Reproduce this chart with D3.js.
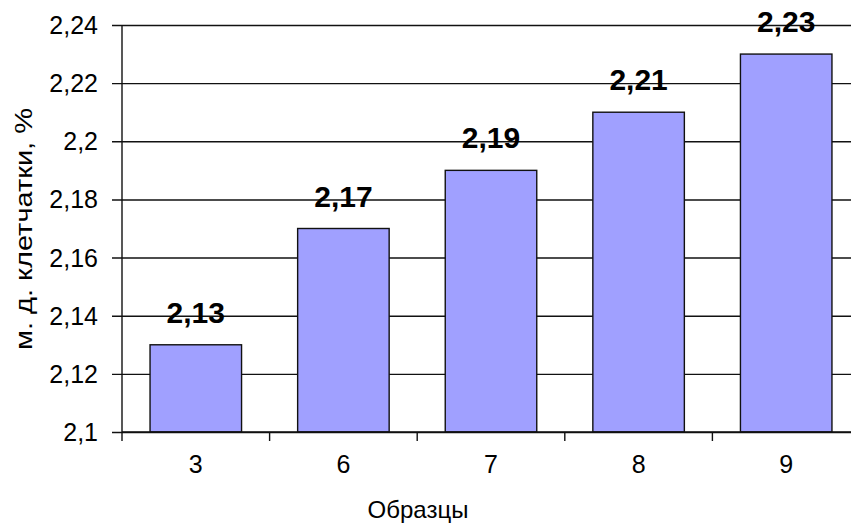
<!DOCTYPE html>
<html>
<head>
<meta charset="utf-8">
<script src="https://cdn.jsdelivr.net/npm/d3@7"></script>
<style>
  html, body { margin: 0; padding: 0; background: #fff; }
  svg { display: block; font-family: Arial, "Liberation Sans", sans-serif; }
</style>
</head>
<body>
<svg id="chart" width="851" height="524"></svg>
<script>
// Samples and fibre mass fraction, %
const categories = ["3", "6", "7", "8", "9"];
const values = [2.13, 2.17, 2.19, 2.21, 2.23];
const valueLabels = ["2,13", "2,17", "2,19", "2,21", "2,23"];
const yTicks = [2.1, 2.12, 2.14, 2.16, 2.18, 2.2, 2.22, 2.24];
const yTickLabels = ["2,1", "2,12", "2,14", "2,16", "2,18", "2,2", "2,22", "2,24"];
const yTitle = "м. д. клетчатки, %";
const xTitle = "Образцы";

const svg = d3.select("#chart");
const plot = { left: 122, right: 860, top: 25, bottom: 432 };

const x = d3.scaleBand()
  .domain(categories)
  .range([plot.left, plot.right])
  .paddingInner(0.38)
  .paddingOuter(0.19);

const y = d3.scaleLinear()
  .domain([2.1, 2.24])
  .range([plot.bottom, plot.top]);

// Horizontal gridlines with outward tick marks
const yAxis = d3.axisLeft(y)
  .tickValues(yTicks)
  .tickSize(-(plot.right - plot.left) - 10)
  .tickSizeOuter(0)
  .tickPadding(14)
  .tickFormat((d, i) => yTickLabels[i]);

const gy = svg.append("g")
  .attr("transform", `translate(${plot.left - 10},0)`)
  .call(yAxis);
gy.select(".domain").remove();
gy.selectAll(".tick line")
  .attr("stroke", "#111")
  .attr("stroke-width", 1.4);
gy.selectAll(".tick text")
  .attr("font-size", 25)
  .attr("fill", "#000")
  .attr("dy", "0.34em");

// Left border of plot area
svg.append("line")
  .attr("x1", plot.left).attr("x2", plot.left)
  .attr("y1", plot.top).attr("y2", plot.bottom)
  .attr("stroke", "#111").attr("stroke-width", 1.4);

// Bars
svg.append("g").selectAll("rect")
  .data(values)
  .join("rect")
  .attr("x", (d, i) => x(categories[i]))
  .attr("y", d => y(d))
  .attr("width", x.bandwidth())
  .attr("height", d => y(2.1) - y(d))
  .attr("fill", "#a0a0ff")
  .attr("stroke", "#111")
  .attr("stroke-width", 1.4);

// Category axis line with ticks between categories
const step = x.step();
svg.append("line")
  .attr("x1", plot.left).attr("x2", plot.right)
  .attr("y1", plot.bottom).attr("y2", plot.bottom)
  .attr("stroke", "#111").attr("stroke-width", 1.6);
svg.append("g").selectAll("line")
  .data(d3.range(categories.length + 1))
  .join("line")
  .attr("x1", i => plot.left + i * step)
  .attr("x2", i => plot.left + i * step)
  .attr("y1", plot.bottom)
  .attr("y2", plot.bottom + 9)
  .attr("stroke", "#111").attr("stroke-width", 1.4);

svg.append("g").selectAll("text")
  .data(categories)
  .join("text")
  .attr("x", d => x(d) + x.bandwidth() / 2)
  .attr("y", 473)
  .attr("text-anchor", "middle")
  .attr("font-size", 25)
  .text(d => d);

// Value labels above bars
svg.append("g").selectAll("text")
  .data(values)
  .join("text")
  .attr("x", (d, i) => x(categories[i]) + x.bandwidth() / 2)
  .attr("y", d => y(d) - 22)
  .attr("text-anchor", "middle")
  .attr("font-size", 30)
  .attr("font-weight", "bold")
  .text((d, i) => valueLabels[i]);

// Axis titles
svg.append("text")
  .attr("transform", "translate(32,229) rotate(-90)")
  .attr("text-anchor", "middle")
  .attr("font-size", 24)
  .attr("textLength", 242)
  .attr("lengthAdjust", "spacingAndGlyphs")
  .text(yTitle);

svg.append("text")
  .attr("x", 418)
  .attr("y", 518)
  .attr("text-anchor", "middle")
  .attr("font-size", 24)
  .text(xTitle);
</script>
</body>
</html>
